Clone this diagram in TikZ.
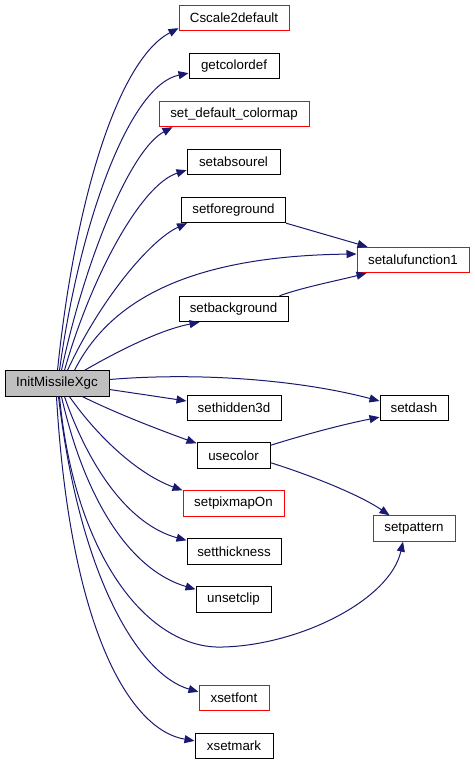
\documentclass[tikz,border=0pt]{standalone}
\usepackage{fontspec}
\setmainfont{Liberation Sans}
\usetikzlibrary{arrows.meta,calc}
\definecolor{edgeblue}{RGB}{25,25,112}
\definecolor{boxgray}{RGB}{191,191,191}
\tikzset{
  fn/.style={draw=black, line width=0.75pt, minimum height=19pt, inner sep=1pt, font=\fontsize{10}{12}\selectfont},
  fnmissing/.style={fn, draw=red},
  fnroot/.style={fn, fill=boxgray},
  call/.style={draw=edgeblue, line width=0.75pt, -{Triangle[length=7.5pt,width=6pt]}},
}
\begin{document}
\begin{tikzpicture}[x=0.75pt, y=-0.75pt]
    \useasboundingbox (0,0) rectangle (474,762);

    % the caller
    \node[fnroot, minimum width=78pt] (init) at (57,383.5) {InitMissileXgc};

    % called functions
    \node[fnmissing, minimum width=82.5pt] (cscale) at (234,18) {Cscale2default};
    \node[fn, minimum width=67.5pt] (getcolordef) at (234,66) {getcolordef};
    \node[fnmissing, minimum width=112.5pt] (setdefcmap) at (234,114) {set\_default\_colormap};
    \node[fn, minimum width=69.75pt] (setabsourel) at (233.5,162) {setabsourel};
    \node[fn, minimum width=78pt] (setforeground) at (233.5,210) {setforeground};
    \node[fnmissing, minimum width=84pt] (setalufunction) at (413,260) {setalufunction1};
    \node[fn, minimum width=81.75pt] (setbackground) at (233.5,309) {setbackground};
    \node[fn, minimum width=70.5pt] (sethidden) at (234,408) {sethidden3d};
    \node[fn, minimum width=51pt] (setdash) at (414,408) {setdash};
    \node[fn, minimum width=54.75pt] (usecolor) at (233.5,455.5) {usecolor};
    \node[fnmissing, minimum width=75.75pt] (setpixmap) at (233.5,503.5) {setpixmapOn};
    \node[fnmissing, minimum width=61.5pt] (patternbox) at (414,528.5) {setpattern};
    \node[fn, minimum width=70.5pt] (setthickness) at (234,551.5) {setthickness};
    \node[fn, minimum width=56.25pt] (unsetclip) at (233.5,599.5) {unsetclip};
    \node[fnmissing, minimum width=52.5pt] (xsetfont) at (234,698) {xsetfont};
    \node[fn, minimum width=58.5pt] (xsetmark) at (234,746) {xsetmark};

    % calls going up
    \draw[call] ($(init.north west)+(53,0)$) .. controls (75,200) and (118,60) .. ($(cscale.south west)+(0,-3)$);
    \draw[call] ($(init.north west)+(55,0)$) .. controls (80,220) and (130,85) .. ($(getcolordef.south west)+(0,-6)$);
    \draw[call] ($(init.north west)+(57,0)$) .. controls (85,260) and (130,150) .. ($(setdefcmap.south west)+(14,0)$);
    \draw[call] ($(init.north west)+(60,0)$) .. controls (90,280) and (140,185) .. ($(setabsourel.south west)+(0,-5)$);
    \draw[call] ($(init.north west)+(63,0)$) .. controls (100,300) and (150,240) .. ($(setforeground.south west)+(6,0)$);
    \draw[call] ($(init.north west)+(70,0)$) .. controls (110,300) and (190,256) .. ($(setalufunction.west)+(0,-6)$);
    \draw[call] ($(init.north west)+(80,0)$) .. controls (120,350) and (160,330) .. ($(setbackground.south west)+(21,0)$);

    % calls to the right
    \draw[call] ($(init.east)+(0,-4)$) .. controls (200,372) and (300,380) .. ($(setdash.west)+(0,-7)$);
    \draw[call] ($(init.east)+(0,6)$) .. controls (140,394) and (160,397) .. ($(sethidden.west)+(0,-7)$);

    % calls going down
    \draw[call] ($(init.south west)+(78,0)$) .. controls (120,415) and (160,430) .. ($(usecolor.north west)+(0,1)$);
    \draw[call] ($(init.south west)+(65,0)$) .. controls (100,440) and (140,475) .. (setpixmap.north west);
    \draw[call] ($(init.south west)+(60,0)$) .. controls (90,470) and (130,525) .. ($(setthickness.north west)+(0,2)$);
    \draw[call] ($(init.south west)+(57,0)$) .. controls (85,500) and (130,570) .. ($(unsetclip.north west)+(0,3)$);
    \draw[call] ($(init.south west)+(55,0)$) .. controls (75,560) and (150,650) .. (223,647)
        .. controls (300,645) and (390,600) .. ($(patternbox.south)+(-11,0)$);
    \draw[call] ($(init.south west)+(54,0)$) .. controls (80,580) and (140,675) .. ($(xsetfont.north west)+(0,7)$);
    \draw[call] ($(init.south west)+(52,0)$) .. controls (70,630) and (130,730) .. ($(xsetmark.north west)+(0,8)$);

    % second level calls
    \draw[call] (setforeground.south east) -- ($(setalufunction.north west)+(11,0)$);
    \draw[call] ($(setbackground.north east)+(-9,0)$) .. controls (300,288) and (340,280) .. ($(setalufunction.south west)+(10,0)$);
    \draw[call] ($(usecolor.north east)+(0,3)$) .. controls (300,436) and (340,425) .. ($(setdash.south west)+(0,-4)$);
    \draw[call] ($(usecolor.south east)+(0,-6)$) .. controls (310,475) and (360,495) .. ($(patternbox.north west)+(17,0)$);
\end{tikzpicture}
\end{document}
